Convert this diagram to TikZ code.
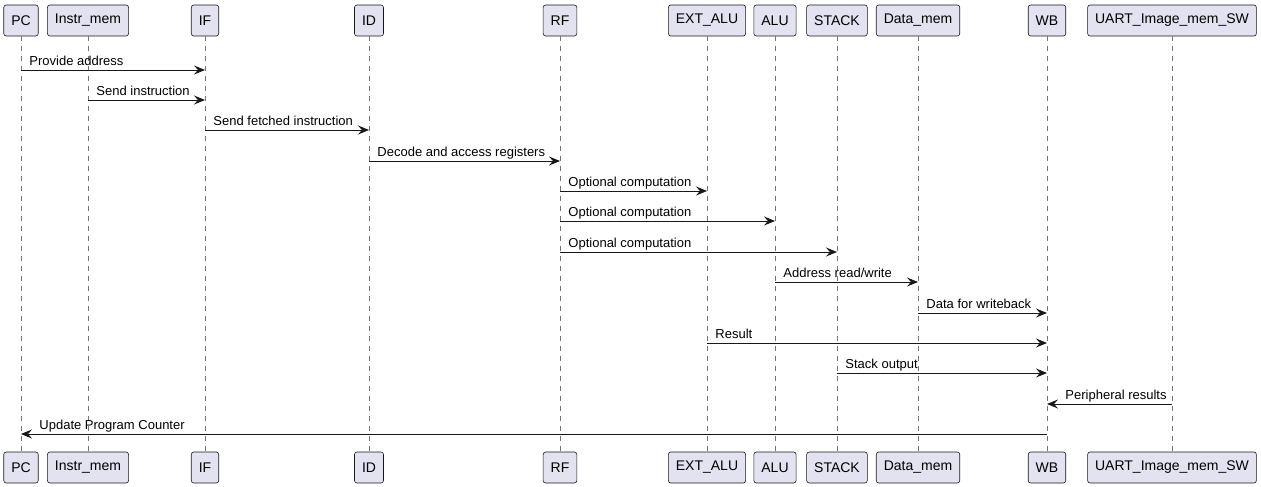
\documentclass[tikz,border=0pt]{standalone}
\usepackage{fontspec}
\setmainfont{Liberation Sans}
\usetikzlibrary{arrows.meta}

\definecolor{boxfill}{HTML}{E2E2F0}
\definecolor{ink}{HTML}{181818}

\tikzset{
  part/.style={draw=ink, fill=boxfill, rounded corners=2.5pt, line width=0.6pt,
    minimum height=31pt, inner xsep=7.5pt, inner ysep=0pt,
    font=\fontsize{14}{16}\selectfont},
  life/.style={draw=ink!60, line width=0.5pt, dash pattern=on 5pt off 5pt},
  msg/.style={draw=ink, line width=0.9pt, -{Stealth[length=11pt, width=9pt, inset=4pt]}},
  lbl/.style={anchor=base west, xshift=8pt, yshift=4.5pt, inner sep=0pt},
  lblback/.style={lbl, xshift=10pt}
}

\begin{document}
\begin{tikzpicture}[x=1pt, y=-1pt, font=\fontsize{13}{15}\selectfont]
  \useasboundingbox (0,0) rectangle (1261,487);

  % participants, top and bottom, with their lifelines
  \foreach \n/\x/\t in {PC/21/PC, Imem/88/Instr\_mem, IF/205/IF, ID/369/ID,
      RF/560/RF, EXT/707/EXT\_ALU, ALU/775/ALU, STACK/837/STACK,
      Dmem/918/Data\_mem, WB/1047/WB, UART/1172/UART\_Image\_mem\_SW} {
    \node[part] (\n-top) at (\x,20.5) {\t};
    \node[part] (\n-bot) at (\x,467.5) {\t};
    \draw[life] (\n-top) -- (\n-bot);
  }

  % message rows
  \foreach \i/\y in {1/70, 2/100, 3/130, 4/161, 5/191, 6/221, 7/252,
      8/282, 9/313, 10/343, 11/373, 12/404, 13/434}
    \coordinate (m\i) at (0,\y);

  \path[every edge/.style={msg}]
    (PC-top |- m1) edge node[lbl, at start] {Provide address} (IF-top |- m1)
    (Imem-top |- m2) edge node[lbl, at start] {Send instruction} (IF-top |- m2)
    (IF-top |- m3) edge node[lbl, at start] {Send fetched instruction} (ID-top |- m3)
    (ID-top |- m4) edge node[lbl, at start] {Decode and access registers} (RF-top |- m4)
    (RF-top |- m5) edge node[lbl, at start] {Optional computation} (EXT-top |- m5)
    (RF-top |- m6) edge node[lbl, at start] {Optional computation} (ALU-top |- m6)
    (RF-top |- m7) edge node[lbl, at start] {Optional computation} (STACK-top |- m7)
    (ALU-top |- m8) edge node[lbl, at start] {Address read/write} (Dmem-top |- m8)
    (Dmem-top |- m9) edge node[lbl, at start] {Data for writeback} (WB-top |- m9)
    (EXT-top |- m10) edge node[lbl, at start] {Result} (WB-top |- m10)
    (STACK-top |- m11) edge node[lbl, at start] {Stack output} (WB-top |- m11)
    (UART-top |- m12) edge node[lblback, at end] {Peripheral results} (WB-top |- m12)
    (WB-top |- m13) edge node[lblback, at end] {Update Program Counter} (PC-top |- m13);
\end{tikzpicture}
\end{document}
